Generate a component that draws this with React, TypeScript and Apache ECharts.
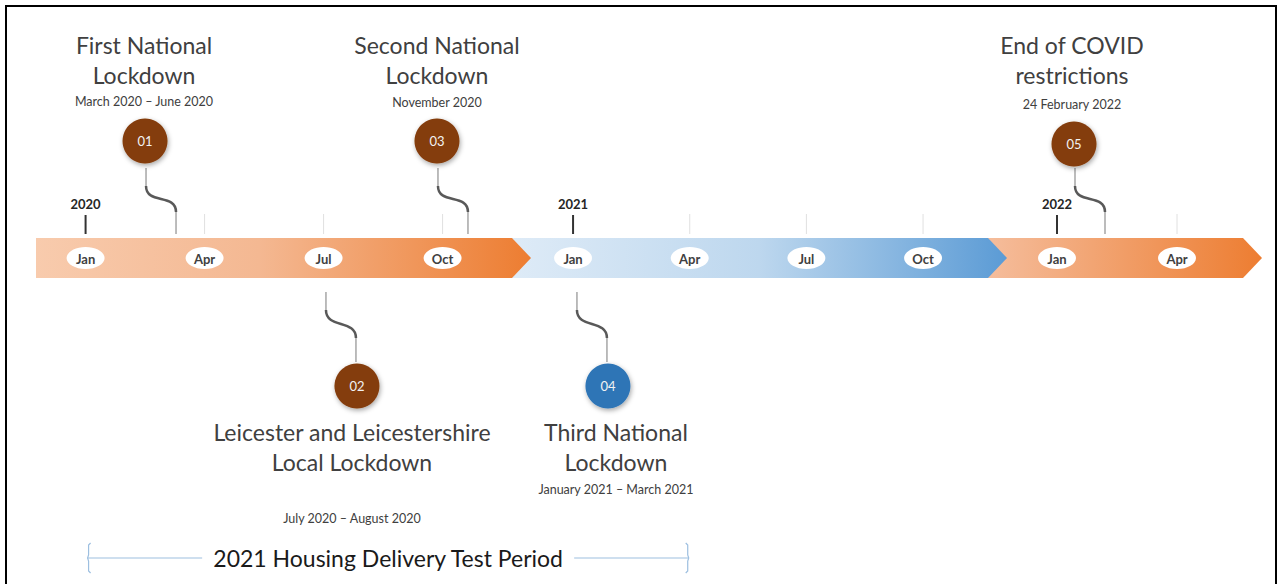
import React, { useEffect, useRef } from 'react';
import * as echarts from 'echarts';

// ---------- data ----------
const years = ['2020', '2021', '2022'];
const monthNames = ['Jan', 'Apr', 'Jul', 'Oct'];
const monthValues = [0, 3, 6, 9];
const monthsShown = [[0, 3, 6, 9], [0, 3, 6, 9], [0, 3]];

const eventYear = [0, 0, 0, 1, 2];
const eventMonth = [2.28, 6.06, 9.64, 0.1, 1.2];
const eventNo = ['01', '02', '03', '04', '05'];
const eventTitle = [
  ['First National', 'Lockdown'],
  ['Leicester and Leicestershire', 'Local Lockdown'],
  ['Second National', 'Lockdown'],
  ['Third National', 'Lockdown'],
  ['End of COVID', 'restrictions'],
];
const eventDates = [
  'March 2020 – June 2020',
  'July 2020 – August 2020',
  'November 2020',
  'January 2021 – March 2021',
  '24 February 2022',
];
const eventSide = ['above', 'below', 'above', 'below', 'above'];

const hdtStart = [0, 0]; // [year index, month]
const hdtEnd = [1, 3];
const hdtLabel = '2021 Housing Delivery Test Period';

// ---------- layout / style ----------
const segLayout = [
  { left: 36, width: 476, min: -1.25, max: 10.75 },
  { left: 512, width: 476, min: -1.57, max: 10.67 },
  { left: 988, width: 255, min: -1.725, max: 4.65 },
];
const segGradient = [
  [['0', '#F8CBAD'], ['0.45', '#F4B892'], ['1', '#ED7D31']],
  [['0', '#DEEBF7'], ['0.5', '#BDD7EE'], ['1', '#5B9BD5']],
  [['0', '#F5BD9C'], ['1', '#ED7D31']],
];
const eventColor = ['#843C0C', '#843C0C', '#843C0C', '#2E75B6', '#843C0C'];
const titleShift = [-1, -5, 0, 8, -2];
const circleDy = [0, 0, 0, 0, 3];
const subY = [101, 518, 102, 489, 104];
const FONT = 'Lato';
const TEXT = '#404040';
const TITLE_SIZE = 23;

export default function App() {
  const ref = useRef<HTMLDivElement>(null);
  useEffect(() => {
    document.body.style.margin = '0';
    const chart = echarts.init(ref.current as HTMLDivElement, null, { renderer: 'svg' });

    const grids = segLayout.map((s) => ({ left: s.left, width: s.width, top: 238, height: 40, containLabel: false }));
    const xAxes = segLayout.map((s, i) => ({ type: 'value', gridIndex: i, min: s.min, max: s.max, show: false }));
    const yAxes = segLayout.map((_, i) => ({ type: 'value', gridIndex: i, min: 0, max: 1, show: false }));

    const series: any[] = [];
    // bars
    segLayout.forEach((_, i) => {
      series.push({
        type: 'custom',
        xAxisIndex: i,
        yAxisIndex: i,
        z: 10 - i,
        clip: false,
        silent: true,
        data: [[0]],
        renderItem: (params: any) => {
          const c = params.coordSys;
          const x0 = c.x, x1 = c.x + c.width, y0 = c.y, y1 = c.y + c.height;
          const tip = 19;
          const stops = segGradient[i].map((s) => ({ offset: Number(s[0]), color: s[1] }));
          return {
            type: 'polygon',
            shape: { points: [[x0, y0], [x1, y0], [x1 + tip, (y0 + y1) / 2], [x1, y1], [x0, y1]] },
            style: { fill: new echarts.graphic.LinearGradient(0, 0, 1, 0, stops) },
          };
        },
      });
    });
    // months + year ticks
    segLayout.forEach((_, i) => {
      series.push({
        type: 'custom',
        xAxisIndex: i,
        yAxisIndex: i,
        z: 20,
        clip: false,
        silent: true,
        data: monthsShown[i].map((m) => [m]),
        renderItem: (params: any, api: any) => {
          const m = api.value(0);
          const [x, yt] = api.coord([m, 1]);
          const yc = api.coord([m, 0.5])[1];
          const children: any[] = [
            { type: 'ellipse', shape: { cx: x, cy: yc, rx: 19, ry: 11 }, style: { fill: '#FFFFFF' } },
            {
              type: 'text',
              style: {
                text: monthNames[monthValues.indexOf(m)], x, y: yc + 0.5, align: 'center', verticalAlign: 'middle',
                fontFamily: FONT, fontWeight: 'bold', fontSize: 13, fill: TEXT,
              },
            },
          ];
          if (m === 0) {
            children.push({ type: 'line', shape: { x1: x, y1: yt - 23, x2: x, y2: yt - 4 }, style: { stroke: '#333333', lineWidth: 2 } });
            children.push({
              type: 'text',
              style: {
                text: years[i], x, y: yt - 34, align: 'center', verticalAlign: 'middle',
                fontFamily: FONT, fontWeight: 'bold', fontSize: 13, fill: '#262626',
              },
            });
          } else {
            children.push({ type: 'line', shape: { x1: x, y1: yt - 24, x2: x, y2: yt - 4 }, style: { stroke: '#E0E0E0', lineWidth: 1 } });
          }
          return { type: 'group', children };
        },
      });
    });
    // events
    segLayout.forEach((_, s) => {
      const items = eventYear.map((y, idx) => (y === s ? [eventMonth[idx], idx] : null)).filter(Boolean);
      series.push({
        type: 'custom',
        xAxisIndex: s,
        yAxisIndex: s,
        z: 30,
        clip: false,
        silent: true,
        data: items,
        renderItem: (params: any, api: any) => {
          const m = api.value(0);
          const i = api.value(1);
          const [px, yTop] = api.coord([m, 1]);
          const yBot = api.coord([m, 0])[1];
          const thin = { stroke: '#A6A6A6', lineWidth: 1.5 };
          const thick = { stroke: '#595959', lineWidth: 2.5, fill: 'none' };
          const children: any[] = [];
          let cx: number, cy: number, tx: number, ty1: number, ty2: number;
          if (eventSide[i] === 'above') {
            const a = px - 30;
            children.push({ type: 'line', shape: { x1: a, y1: yTop - 70, x2: a, y2: yTop - 52 }, style: thin });
            children.push({ type: 'bezierCurve', shape: { x1: a, y1: yTop - 52, cpx1: a, cpy1: yTop - 33, cpx2: px, cpy2: yTop - 45, x2: px, y2: yTop - 26 }, style: thick });
            children.push({ type: 'line', shape: { x1: px, y1: yTop - 26, x2: px, y2: yTop - 4 }, style: thin });
            cx = px - 31; cy = yTop - 97 + circleDy[i];
            tx = px - 31 + titleShift[i]; ty1 = 45; ty2 = 75;
          } else {
            const b = px + 30;
            children.push({ type: 'line', shape: { x1: px, y1: yBot + 14, x2: px, y2: yBot + 32 }, style: thin });
            children.push({ type: 'bezierCurve', shape: { x1: px, y1: yBot + 32, cpx1: px, cpy1: yBot + 51, cpx2: b, cpy2: yBot + 41, x2: b, y2: yBot + 60 }, style: thick });
            children.push({ type: 'line', shape: { x1: b, y1: yBot + 60, x2: b, y2: yBot + 84 }, style: thin });
            cx = px + 31; cy = yBot + 108;
            tx = px + 31 + titleShift[i]; ty1 = 432; ty2 = 462;
          }
          children.push({
            type: 'circle', shape: { cx, cy, r: 22.5 },
            style: { fill: eventColor[i], shadowBlur: 5, shadowColor: 'rgba(0,0,0,0.35)', shadowOffsetX: 1, shadowOffsetY: 2 },
          });
          children.push({
            type: 'text',
            style: { text: eventNo[i], x: cx, y: cy, align: 'center', verticalAlign: 'middle', fontFamily: FONT, fontSize: 13, fill: '#F2F2F2' },
          });
          children.push({
            type: 'text',
            style: { text: eventTitle[i][0], x: tx, y: ty1, align: 'center', verticalAlign: 'middle', fontFamily: FONT, fontSize: TITLE_SIZE, fill: TEXT },
          });
          children.push({
            type: 'text',
            style: { text: eventTitle[i][1], x: tx, y: ty2, align: 'center', verticalAlign: 'middle', fontFamily: FONT, fontSize: TITLE_SIZE, fill: TEXT },
          });
          children.push({
            type: 'text',
            style: { text: eventDates[i], x: tx, y: subY[i], align: 'center', verticalAlign: 'middle', fontFamily: FONT, fontSize: 12.5, fill: TEXT },
          });
          return { type: 'group', children };
        },
      });
    });

    chart.setOption({
      animation: false,
      grid: grids,
      xAxis: xAxes,
      yAxis: yAxes,
      series,
    });

    // HDT period brace, positioned via the axes
    const p0 = chart.convertToPixel({ gridIndex: hdtStart[0] } as any, [hdtStart[1], 0]) as number[];
    const p1 = chart.convertToPixel({ gridIndex: hdtEnd[0] } as any, [hdtEnd[1], 0]) as number[];
    const xl = p0[0] + 2, xr = p1[0] - 1;
    const ym = 558;
    const mid = (xl + xr) / 2;
    const braceColor = '#9DBFE0';
    const brace = (x: number, dir: number) => ({
      type: 'polyline',
      shape: {
        points: [[x + 3 * dir, ym - 15], [x + 1 * dir, ym - 13], [x + 1 * dir, ym - 3], [x, ym], [x + 1 * dir, ym + 3], [x + 1 * dir, ym + 13], [x + 3 * dir, ym + 15]],
      },
      style: { fill: 'none', stroke: braceColor, lineWidth: 1.2 },
    });
    chart.setOption({
      graphic: [
        { type: 'rect', shape: { x: 6, y: 6, width: 1270, height: 600 }, style: { fill: 'none', stroke: '#000000', lineWidth: 2 }, z: 100 },
        brace(xl, 1),
        brace(xr, -1),
        { type: 'line', shape: { x1: xl, y1: ym, x2: mid - 186, y2: ym }, style: { stroke: braceColor, lineWidth: 1.2 } },
        { type: 'line', shape: { x1: mid + 186, y1: ym, x2: xr, y2: ym }, style: { stroke: braceColor, lineWidth: 1.2 } },
        {
          type: 'text',
          style: { text: hdtLabel, x: mid, y: ym, align: 'center', verticalAlign: 'middle', fontFamily: FONT, fontSize: TITLE_SIZE, fill: '#1A1A1A' },
        },
      ],
    });

    return () => chart.dispose();
  }, []);
  return <div ref={ref} style={{ width: 1283, height: 584 }} />;
}
